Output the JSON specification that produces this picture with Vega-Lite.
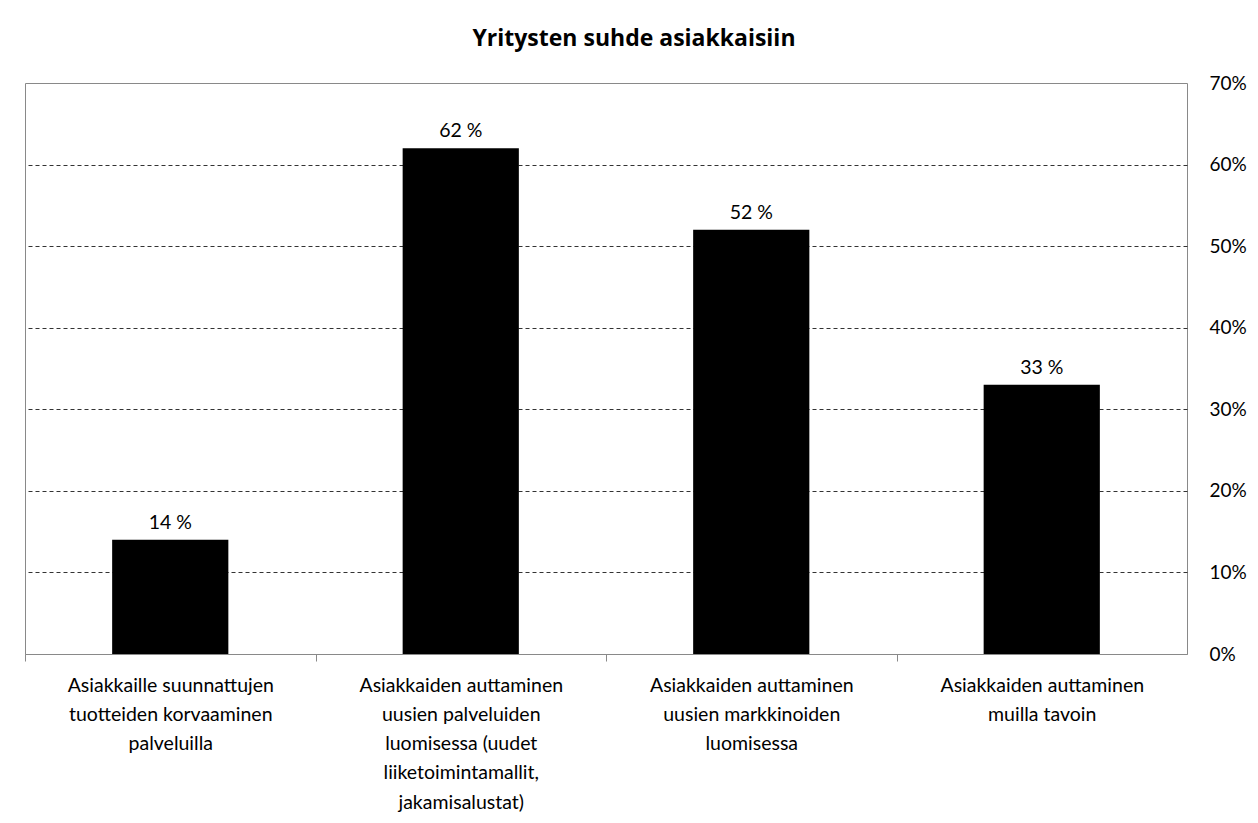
{
  "$schema": "https://vega.github.io/schema/vega-lite/v6.json",
  "autosize": "none",
  "width": 1162,
  "height": 571,
  "padding": {"left": 25, "top": 83, "right": 71, "bottom": 169},
  "background": "white",
  "config": {
    "font": "Lato",
    "view": {"stroke": "#898989", "strokeWidth": 1}
  },
  "title": {
    "text": "Yritysten suhde asiakkaisiin",
    "font": "Open Sans",
    "fontSize": 23,
    "fontWeight": "bold",
    "color": "#000000",
    "anchor": "middle",
    "frame": "group",
    "dx": 28,
    "baseline": "alphabetic",
    "offset": 5
  },
  "data": {
    "values": [
      {"kategoria": "Asiakkaille suunnattujen|tuotteiden korvaaminen|palveluilla", "osuus": 14, "nimike": "14 %"},
      {"kategoria": "Asiakkaiden auttaminen|uusien palveluiden|luomisessa  (uudet|liiketoimintamallit,|jakamisalustat)", "osuus": 62, "nimike": "62 %"},
      {"kategoria": "Asiakkaiden auttaminen|uusien markkinoiden|luomisessa", "osuus": 52, "nimike": "52 %"},
      {"kategoria": "Asiakkaiden auttaminen|muilla tavoin", "osuus": 33, "nimike": "33 %"}
    ]
  },
  "encoding": {
    "x": {
      "field": "kategoria",
      "type": "nominal",
      "sort": null,
      "scale": {"paddingInner": 0.6, "paddingOuter": 0.3},
      "axis": {
        "title": null,
        "labelAngle": 0,
        "labelExpr": "split(datum.label, '|')",
        "labelFont": "Lato",
        "labelFontSize": 19.5,
        "labelColor": "#000000",
        "labelLineHeight": 29.3,
        "labelBaseline": "top",
        "labelPadding": 15,
        "labelLimit": 0,
        "tickOffset": -145.25,
        "labelOffset": 145.25,
        "tickSize": 7,
        "tickColor": "#898989",
        "domainColor": "#898989",
        "grid": false
      }
    },
    "y": {
      "field": "osuus",
      "type": "quantitative",
      "scale": {"domain": [0, 70], "nice": false},
      "axis": {
        "orient": "right",
        "title": null,
        "values": [0, 10, 20, 30, 40, 50, 60, 70],
        "labelExpr": "datum.value + '%'",
        "labelFont": "Lato",
        "labelFontSize": 19,
        "labelColor": "#000000",
        "labelAlign": "left",
        "labelBaseline": "middle",
        "labelPadding": 22,
        "ticks": false,
        "domain": false,
        "grid": true,
        "gridColor": "#333333",
        "gridDash": [4, 3],
        "gridWidth": 1,
        "gridOpacity": {"condition": {"test": "datum.value == 0 || datum.value == 70", "value": 0}, "value": 1}
      }
    }
  },
  "layer": [
    {"mark": {"type": "bar", "color": "#000000"}},
    {
      "mark": {"type": "text", "baseline": "alphabetic", "dy": -11, "font": "Lato", "fontSize": 19.5, "color": "#000000"},
      "encoding": {"text": {"field": "nimike"}}
    }
  ]
}
